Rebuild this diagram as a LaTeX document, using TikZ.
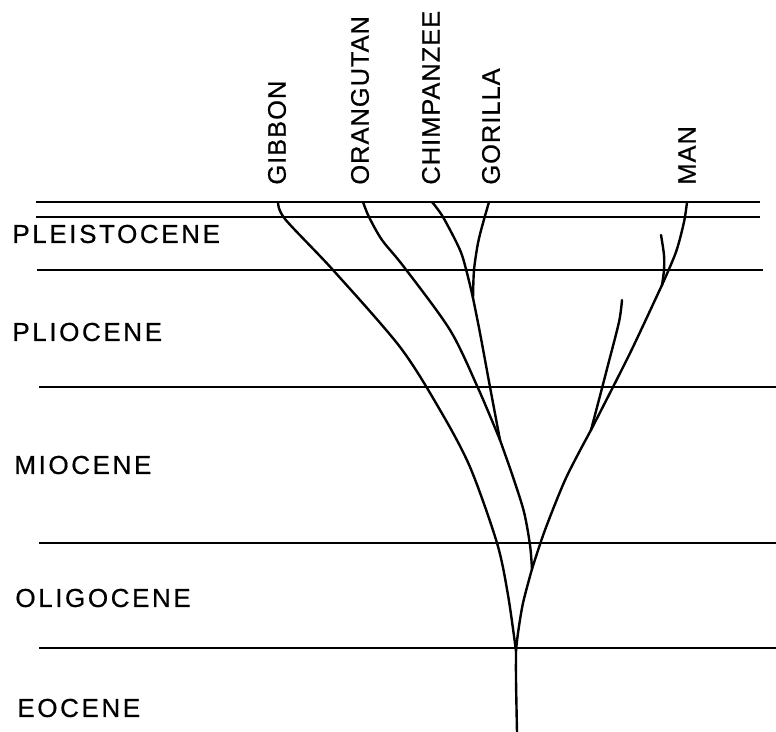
\documentclass[tikz,border=0pt]{standalone}
\usepackage{fontspec}
\newfontfamily\eraface[LetterSpace=10,FakeBold=0.6]{Liberation Sans}
\newfontfamily\taxonface[LetterSpace=4,FakeBold=0.6]{Liberation Sans}

\tikzset{
  bound/.style={line width=1pt},
  branch/.style={line width=1.2pt, line cap=round, line join=round},
  era/.style={anchor=west, inner sep=0pt, font=\fontsize{13}{15}\selectfont\eraface},
  taxon/.style={anchor=west, rotate=90, inner sep=0pt, font=\fontsize{12.7}{15}\selectfont\taxonface}
}

\begin{document}
\begin{tikzpicture}[x=0.5pt, y=-0.5pt]
    \useasboundingbox (0,0) rectangle (776,732);

    % epoch boundaries
    \draw[bound] (36,202) -- (760,202);
    \draw[bound] (36,217) -- (760,217);
    \draw[bound] (37,270) -- (763,270);
    \draw[bound] (39,387) -- (776,387);
    \draw[bound] (39,543) -- (776,543);
    \draw[bound] (39,648) -- (776,648);

    % epoch names
    \node[era] (pleis) at (12,234) {PLEISTOCENE};
    \node[era] (plio)  at (12,332) {PLIOCENE};
    \node[era] (mio)   at (14,465) {MIOCENE};
    \node[era] (oligo) at (15,598) {OLIGOCENE};
    \node[era] (eo)    at (17,708) {EOCENE};

    % living forms
    \node[taxon] (lgib) at (277,185) {GIBBON};
    \node[taxon] (lora) at (360,185) {ORANGUTAN};
    \node[taxon] (lchi) at (431,185) {CHIMPANZEE};
    \node[taxon] (lgor) at (491,185) {GORILLA};
    \node[taxon] (lman) at (687,185) {MAN};

    % tips and forks
    \coordinate (gib) at (278,202);
    \coordinate (ora) at (363,202);
    \coordinate (chi) at (432,202);
    \coordinate (gor) at (489,202);
    \coordinate (man) at (687,202);
    \coordinate (sideA) at (661,235);
    \coordinate (sideB) at (622,300);
    \coordinate (jcg) at (473,298);
    \coordinate (jco) at (500,440);
    \coordinate (jmA) at (662,285);
    \coordinate (jmB) at (591,430);
    \coordinate (jam) at (532,569);
    \coordinate (jgb) at (516,651);
    \coordinate (root) at (517,732);

    % great apes
    \draw[branch] plot[smooth] coordinates {(chi) (443,217) (460,250) (467,273) (jcg)};
    \draw[branch] plot[smooth] coordinates {(gor) (483,223) (478,243) (474,270) (jcg)};
    \draw[branch] plot[smooth] coordinates {(jcg) (480,333) (490,387) (jco)};
    \draw[branch] plot[smooth] coordinates {(ora) (369,217) (382,240) (404,267) (450,330) (478,388) (jco)};
    \draw[branch] plot[smooth] coordinates {(jco) (513,477) (524,512) (530,545) (jam)};

    % hominid side
    \draw[branch] plot[smooth] coordinates {(man) (684,222) (676,252) (jmA)};
    \draw[branch] plot[smooth] coordinates {(sideA) (664,255) (664,270) (jmA)};
    \draw[branch] plot[smooth] coordinates {(jmA) (633,347) (613,387) (jmB)};
    \draw[branch] plot[smooth] coordinates {(sideB) (619,322) (608,365) (601,392) (jmB)};
    \draw[branch] plot[smooth] coordinates {(jmB) (566,478) (545,530) (jam)};

    % gibbon and stem
    \draw[branch] plot[smooth] coordinates {(gib) (285,219) (333,270) (400,347) (440,410) (470,467) (497,543) (508,595) (jgb)};
    \draw[branch] plot[smooth] coordinates {(jam) (523,603) (518,633) (jgb)};
    \draw[branch] plot[smooth] coordinates {(jgb) (516,680) (root)};
\end{tikzpicture}
\end{document}
